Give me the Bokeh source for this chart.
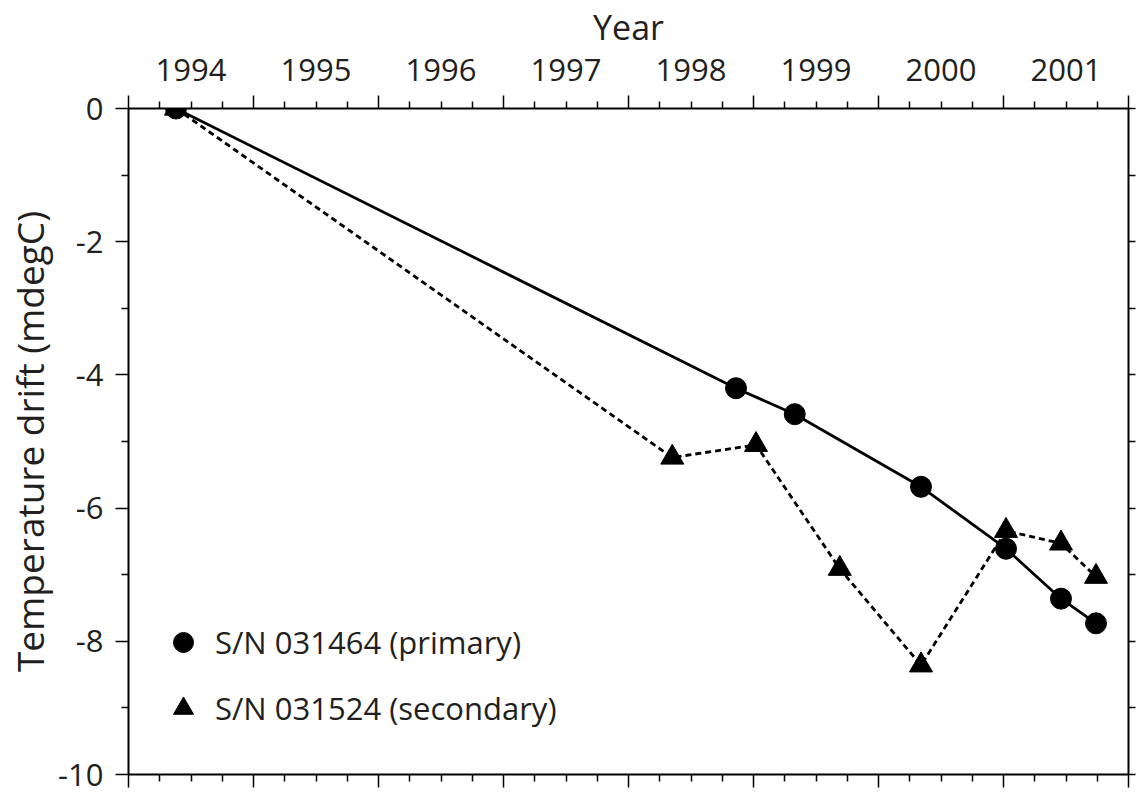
from bokeh.plotting import figure
from bokeh.models import LinearAxis, FixedTicker, Range1d, Legend, LegendItem
from bokeh.embed import file_html
from bokeh.resources import INLINE

# Drift of the two temperature sensors (decimal year, mdegC)
primary_year = [1994.38, 1998.86, 1999.33, 2000.34, 2001.02, 2001.46, 2001.74]
primary_drift = [0.0, -4.20, -4.59, -5.68, -6.61, -7.36, -7.73]

secondary_year = [1994.38, 1998.35, 1999.02, 1999.69, 2000.34, 2001.02, 2001.46, 2001.74]
secondary_drift = [0.0, -5.24, -5.05, -6.91, -8.36, -6.34, -6.53, -7.03]

primary_label = "S/N 031464 (primary)"
secondary_label = "S/N 031524 (secondary)"

# Axis ticks
year_bounds = list(range(1994, 2003))
year_quarters = [y + q / 4 for y in range(1994, 2002) for q in (1, 2, 3)]
year_centres = [y + 0.5 for y in range(1994, 2002)]
year_labels = ["1994", "1995", "1996", "1997", "1998", "1999", "2000", "2001"]
drift_major = [-10, -8, -6, -4, -2, 0]
drift_labels = ["-10", "-8", "-6", "-4", "-2", "0"]
drift_minor = [-9, -7, -5, -3, -1]

FONT = "Open Sans"
TEXT = "#231f20"

p = figure(width=1137, height=793,
           x_range=Range1d(1994, 2002), y_range=Range1d(-10, 0),
           x_axis_type=None, y_axis_type=None,
           output_backend="svg", toolbar_location=None,
           min_border_left=128, min_border_right=9,
           min_border_top=108, min_border_bottom=19)
p.outline_line_color = None
p.background_fill_color = "white"
p.border_fill_color = "white"


def style(ax, tick_out=13, minor_out=7):
    ax.axis_line_color = "black"
    ax.axis_line_width = 2
    ax.major_tick_line_color = "black"
    ax.major_tick_line_width = 1.5
    ax.minor_tick_line_color = "black"
    ax.minor_tick_line_width = 1.5
    ax.major_tick_in = 0
    ax.major_tick_out = tick_out
    ax.minor_tick_in = 0
    ax.minor_tick_out = minor_out
    ax.major_label_text_font = FONT
    ax.major_label_text_font_size = "31px"
    ax.major_label_text_color = TEXT
    ax.axis_label_text_font = FONT
    ax.axis_label_text_font_style = "normal"
    ax.axis_label_text_color = TEXT
    return ax


def blank(ticks):
    return {t: "" for t in ticks}


# Year boundaries with quarter-year minor ticks (top and bottom)
top_ticks = style(LinearAxis(ticker=FixedTicker(ticks=year_bounds, minor_ticks=year_quarters),
                             major_label_overrides=blank(year_bounds), major_label_standoff=0))
bottom_ticks = style(LinearAxis(ticker=FixedTicker(ticks=year_bounds, minor_ticks=year_quarters),
                                major_label_overrides=blank(year_bounds), major_label_standoff=0))

# Year names centred in each year
top_labels = style(LinearAxis(ticker=FixedTicker(ticks=year_centres, minor_ticks=[]),
                              major_label_overrides=dict(zip(year_centres, year_labels)),
                              axis_label="Year", major_label_standoff=15,
                              axis_label_standoff=6), tick_out=0, minor_out=0)
top_labels.axis_line_color = None
top_labels.axis_label_text_font_size = "34px"

left = style(LinearAxis(ticker=FixedTicker(ticks=drift_major, minor_ticks=drift_minor),
                        major_label_overrides=dict(zip(drift_major, drift_labels)),
                        axis_label="Temperature drift (mdegC)",
                        major_label_standoff=12, axis_label_standoff=0))
left.axis_label_text_font_size = "37px"

right = style(LinearAxis(ticker=FixedTicker(ticks=list(range(-10, 1)), minor_ticks=[]),
                         major_label_overrides=blank(list(range(-10, 1))), major_label_standoff=0),
              tick_out=7, minor_out=0)

p.add_layout(top_ticks, "above")
p.add_layout(top_labels, "above")
p.add_layout(bottom_ticks, "below")
p.add_layout(left, "left")
p.add_layout(right, "right")

p.line(primary_year, primary_drift, line_color="black", line_width=2.8)
p.line(secondary_year, secondary_drift, line_color="black", line_width=2.8, line_dash="6 4")
r1 = p.scatter(primary_year, primary_drift, marker="circle", size=21, color="black")
r2 = p.scatter(secondary_year, secondary_drift, marker="triangle", size=23, color="black")

legend = Legend(items=[LegendItem(label=primary_label, renderers=[r1]),
                       LegendItem(label=secondary_label, renderers=[r2])],
                location=(30, 41), padding=0, margin=0, spacing=16,
                glyph_width=50, glyph_height=50, label_standoff=7,
                label_text_font=FONT, label_text_font_size="31px",
                label_text_color=TEXT, label_text_baseline="middle",
                background_fill_alpha=0, border_line_color=None)
p.add_layout(legend)

open("out.html", "w").write(file_html(p, INLINE))
